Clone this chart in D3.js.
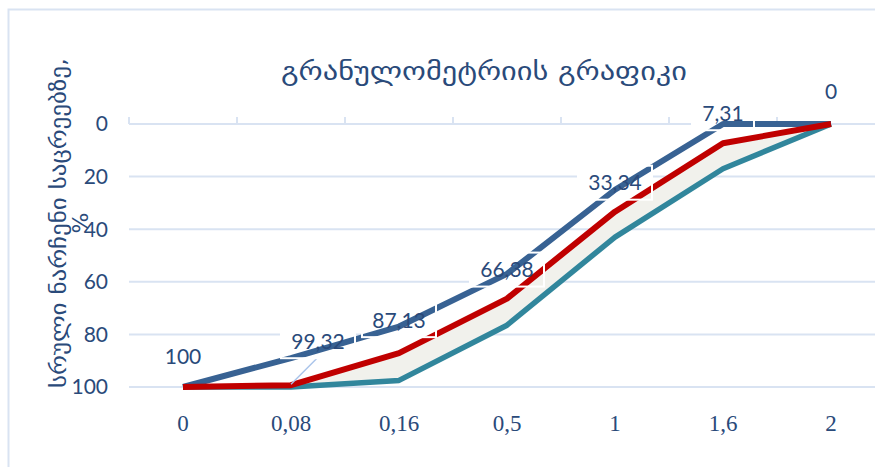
<!DOCTYPE html>
<html>
<head>
<meta charset="utf-8">
<script src="https://cdn.jsdelivr.net/npm/d3@7"></script>
<style>
body { margin: 0; background: #fff; }
</style>
</head>
<body>
<div id="mainArea"></div>
<script>
// sieve sizes (categories) and residue curves
var sieves = ["0", "0,08", "0,16", "0,5", "1", "1,6", "2"];
var upperLine = [100, 89, 77, 57, 25, 0, 0];     // blue
var mainLine = [100, 99.32, 87.13, 66.38, 33.34, 7.31, 0]; // red
var lowerLine = [100, 100, 97.5, 76.5, 43, 17, 0];  // teal
var mainLabels = ["100", "99,32", "87,13", "66,38", "33,34", "7,31", "0"];
var yTicks = [0, 20, 40, 60, 80, 100];

function mainInit() {
  var width = 875, height = 467;
  var vis = d3.select("#mainArea").append("svg")
      .attr("width", width).attr("height", height);

  var textCol = "#2a4a7a";
  var gridCol = "#d9e3f2";

  // chart border
  vis.append("rect").attr("x", 8.5).attr("y", 9.5).attr("width", 900).attr("height", 500)
     .attr("fill", "none").attr("stroke", gridCol).attr("stroke-width", 2);

  var x = d3.scaleBand().domain(sieves).range([129, 885]);
  var cx = function(c) { return x(c) + x.bandwidth() / 2; };
  var y = d3.scaleLinear().domain([0, 100]).range([124, 387]);

  // gridlines
  vis.selectAll("line.grid").data(yTicks).enter().append("line")
     .attr("x1", 129).attr("x2", 880)
     .attr("y1", function(d) { return y(d); }).attr("y2", function(d) { return y(d); })
     .attr("stroke", gridCol).attr("stroke-width", 2);

  // category tick marks on top axis
  vis.selectAll("line.tick").data(sieves).enter().append("line")
     .attr("x1", function(d) { return x(d); }).attr("x2", function(d) { return x(d); })
     .attr("y1", y(0) - 7).attr("y2", y(0))
     .attr("stroke", gridCol).attr("stroke-width", 2);

  // y tick labels
  vis.selectAll("text.ytick").data(yTicks).enter().append("text")
     .attr("x", 108).attr("y", function(d) { return y(d); }).attr("dy", "0.35em")
     .attr("text-anchor", "end").attr("fill", textCol)
     .style("font-family", "Lato, 'Open Sans', sans-serif").style("font-size", "21px")
     .text(function(d) { return d; });

  // x tick labels
  vis.selectAll("text.xtick").data(sieves).enter().append("text")
     .attr("x", function(d) { return cx(d); }).attr("y", 423).attr("dy", "0.35em")
     .attr("text-anchor", "middle").attr("fill", textCol)
     .style("font-family", "'Liberation Serif', serif").style("font-size", "23px")
     .text(function(d) { return d; });

  // label offsets (99,32 is pulled out with a leader line)
  var offs = [[0, -30], [27, -44], [0, -33], [0, -29], [0, -29], [0, -30], [0, -32]];
  var lab = mainLabels.map(function(t, i) {
    return { t: t, px: cx(sieves[i]), py: y(mainLine[i]),
             lx: cx(sieves[i]) + offs[i][0], ly: y(mainLine[i]) + offs[i][1] };
  });
  var boxW = function(d) { return d.t.length * 12 + 14; };

  // white label backgrounds hide gridlines
  vis.selectAll("rect.labbg").data(lab).enter().append("rect")
     .attr("x", function(d) { return d.lx - boxW(d) / 2; }).attr("y", function(d) { return d.ly - 17; })
     .attr("width", boxW).attr("height", 34).attr("fill", "#fff");

  // shaded band between red and teal
  var defs = vis.append("defs");
  defs.append("filter").attr("id", "soft").append("feGaussianBlur").attr("stdDeviation", 2);
  var band = d3.area()
     .x(function(d, i) { return cx(sieves[i]); })
     .y0(function(d, i) { return y(lowerLine[i]); })
     .y1(function(d, i) { return y(mainLine[i]); });
  vis.append("path").datum(mainLine).attr("d", band)
     .attr("fill", "#f1f1ec").attr("filter", "url(#soft)");

  var line = function(vals) {
    return d3.line().x(function(d, i) { return cx(sieves[i]); }).y(function(d) { return y(d); })(vals);
  };
  vis.append("path").attr("d", line(lowerLine)).attr("fill", "none")
     .attr("stroke", "#31869c").attr("stroke-width", 5.5).attr("stroke-linejoin", "round");
  vis.append("path").attr("d", line(upperLine)).attr("fill", "none")
     .attr("stroke", "#386293").attr("stroke-width", 6).attr("stroke-linejoin", "round");
  vis.append("path").attr("d", line(mainLine)).attr("fill", "none")
     .attr("stroke", "#c00000").attr("stroke-width", 6).attr("stroke-linejoin", "round");

  // leader line for 99,32
  vis.append("line").attr("x1", lab[1].px).attr("y1", lab[1].py - 1)
     .attr("x2", lab[1].px + 26).attr("y2", lab[1].py - 27)
     .attr("stroke", "#a9c4ea").attr("stroke-width", 1.5);

  // white label outlines on top of lines
  vis.selectAll("rect.labfr").data(lab).enter().append("rect")
     .attr("x", function(d) { return d.lx - boxW(d) / 2; }).attr("y", function(d) { return d.ly - 17; })
     .attr("width", boxW).attr("height", 34)
     .attr("fill", "none").attr("stroke", "#fff").attr("stroke-width", 2);

  vis.selectAll("text.lab").data(lab).enter().append("text")
     .attr("x", function(d) { return d.lx; }).attr("y", function(d) { return d.ly; }).attr("dy", "0.35em")
     .attr("text-anchor", "middle").attr("fill", textCol)
     .style("font-family", "Lato, 'Open Sans', sans-serif").style("font-size", "21px")
     .text(function(d) { return d.t; });

  // title
  vis.append("text").attr("x", 484).attr("y", 80).attr("text-anchor", "middle")
     .attr("fill", textCol).style("font-family", "'DejaVu Sans', sans-serif").style("font-size", "26px")
     .attr("textLength", 406).attr("lengthAdjust", "spacingAndGlyphs")
     .text("გრანულომეტრიის გრაფიკი");

  // y axis title (two lines)
  var yt = vis.append("text").attr("transform", "translate(66,223) rotate(-90)")
     .attr("text-anchor", "middle").attr("fill", textCol)
     .style("font-family", "'DejaVu Sans', sans-serif").style("font-size", "22px");
  yt.append("tspan").attr("x", 0).attr("y", 0)
     .attr("textLength", 330).attr("lengthAdjust", "spacingAndGlyphs")
     .text("სრული ნარჩენი საცრეებზე,");
  yt.append("tspan").attr("x", 0).attr("y", 22).text("%");
}

window.onload = mainInit;
</script>
</body>
</html>
